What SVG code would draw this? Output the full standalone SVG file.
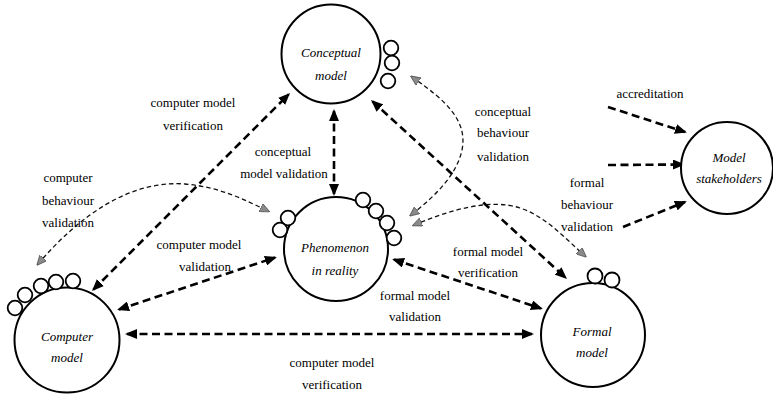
<svg xmlns="http://www.w3.org/2000/svg" width="773" height="394" viewBox="0 0 773 394">
<style>
.lbl{font-family:'Liberation Serif','Times New Roman',serif;font-size:13px;fill:#000;text-anchor:middle}
.nl{font-family:'Liberation Serif','Times New Roman',serif;font-size:13px;font-style:italic;fill:#000;text-anchor:middle}
.main{fill:#fff;stroke:#000;stroke-width:2}
.sm{fill:#fff;stroke:#000;stroke-width:1.8}
.hv{fill:none;stroke:#000;stroke-width:2.6;stroke-dasharray:8 4.5}
.th{fill:none;stroke:#111;stroke-width:1.3;stroke-dasharray:4.5 3}
</style>
<defs>
<marker id="ah" viewBox="0 0 12 10" refX="10" refY="5" markerWidth="12" markerHeight="10" markerUnits="userSpaceOnUse" orient="auto-start-reverse">
<path d="M0,0 L12,5 L0,10 z" fill="#000"/>
</marker>
<marker id="gh" viewBox="0 0 10 9" refX="8" refY="4.5" markerWidth="10" markerHeight="9" markerUnits="userSpaceOnUse" orient="auto-start-reverse">
<path d="M0,0 L10,4.5 L0,9 z" fill="#8a8a8a" stroke="#333" stroke-width="0.6"/>
</marker>
</defs>
<rect width="773" height="394" fill="#fff"/>
<g id="connectors">
<path class="hv" d="M93.4,289.6 L288.6,94.4" marker-start="url(#ah)" marker-end="url(#ah)"/>
<path class="hv" d="M334,111 L334,194" marker-start="url(#ah)" marker-end="url(#ah)"/>
<path class="hv" d="M372.5,101.4 L565.5,277.6" marker-start="url(#ah)" marker-end="url(#ah)"/>
<path class="hv" d="M119,309.4 L275,257.6" marker-start="url(#ah)" marker-end="url(#ah)"/>
<path class="hv" d="M394,259.6 L541,308.4" marker-start="url(#ah)" marker-end="url(#ah)"/>
<path class="hv" d="M127,334 L532,334" marker-start="url(#ah)" marker-end="url(#ah)"/>
<path class="hv" d="M608,107 L685,132" marker-end="url(#ah)"/>
<path class="hv" d="M608,165 L683,164.5" marker-end="url(#ah)"/>
<path class="hv" d="M623,227 L685,202" marker-end="url(#ah)"/>
<path class="th" d="M38,264 C80,215 130,180 185,184 C220,187 245,200 268,211" marker-start="url(#gh)" marker-end="url(#gh)"/>
<path class="th" d="M412,77 C445,100 468,120 462,150 C456,178 430,200 411,215" marker-start="url(#gh)" marker-end="url(#gh)"/>
<path class="th" d="M414,225 C450,210 490,198 520,208 C545,216 565,238 585,256" marker-start="url(#gh)" marker-end="url(#gh)"/>
</g>
<g id="labels">
<text class="lbl" x="193" y="107">computer model</text>
<text class="lbl" x="193" y="130">verification</text>
<text class="lbl" x="283" y="156">conceptual</text>
<text class="lbl" x="284" y="178">model validation</text>
<text class="lbl" x="68" y="182">computer</text>
<text class="lbl" x="68" y="205">behaviour</text>
<text class="lbl" x="68" y="227">validation</text>
<text class="lbl" x="199" y="249">computer model</text>
<text class="lbl" x="205" y="271">validation</text>
<text class="lbl" x="503" y="116">conceptual</text>
<text class="lbl" x="503" y="137">behaviour</text>
<text class="lbl" x="503" y="161">validation</text>
<text class="lbl" x="587" y="187">formal</text>
<text class="lbl" x="587" y="209">behaviour</text>
<text class="lbl" x="587" y="231">validation</text>
<text class="lbl" x="488" y="256">formal model</text>
<text class="lbl" x="488" y="277">verification</text>
<text class="lbl" x="415" y="300">formal model</text>
<text class="lbl" x="415" y="321">validation</text>
<text class="lbl" x="332" y="367">computer model</text>
<text class="lbl" x="332" y="389">verification</text>
<text class="lbl" x="650" y="98">accreditation</text>
</g>
<g id="conceptual-model">
<circle class="main" cx="331" cy="54" r="49.5"/>
<circle class="sm" cx="391" cy="48" r="7.3"/>
<circle class="sm" cx="392" cy="63" r="7.3"/>
<circle class="sm" cx="388" cy="81" r="7.3"/>
<text class="nl" x="331" y="57">Conceptual</text>
<text class="nl" x="331" y="80">model</text>
</g>
<g id="phenomenon">
<circle class="main" cx="336" cy="249" r="52"/>
<circle class="sm" cx="288" cy="218" r="7.3"/>
<circle class="sm" cx="280" cy="230" r="7.3"/>
<circle class="sm" cx="363" cy="200" r="7.3"/>
<circle class="sm" cx="376" cy="211" r="7.3"/>
<circle class="sm" cx="387" cy="223" r="7.3"/>
<circle class="sm" cx="394" cy="238" r="7.3"/>
<text class="nl" x="335" y="252">Phenomenon</text>
<text class="nl" x="335" y="275">in reality</text>
</g>
<g id="computer-model">
<circle class="main" cx="67" cy="340" r="52.5"/>
<circle class="sm" cx="15" cy="308" r="7.3"/>
<circle class="sm" cx="25" cy="295" r="7.3"/>
<circle class="sm" cx="41" cy="286" r="7.3"/>
<circle class="sm" cx="56" cy="282" r="7.3"/>
<circle class="sm" cx="73" cy="281" r="7.3"/>
<text class="nl" x="67" y="341">Computer</text>
<text class="nl" x="67" y="362">model</text>
</g>
<g id="formal-model">
<circle class="main" cx="593" cy="335" r="52"/>
<circle class="sm" cx="595" cy="276" r="7.5"/>
<circle class="sm" cx="612" cy="280" r="7.5"/>
<text class="nl" x="592" y="336">Formal</text>
<text class="nl" x="592" y="357">model</text>
</g>
<g id="model-stakeholders">
<circle class="main" cx="727" cy="168" r="46"/>
<text class="nl" x="729" y="162">Model</text>
<text class="nl" x="729" y="183">stakeholders</text>
</g>
</svg>
